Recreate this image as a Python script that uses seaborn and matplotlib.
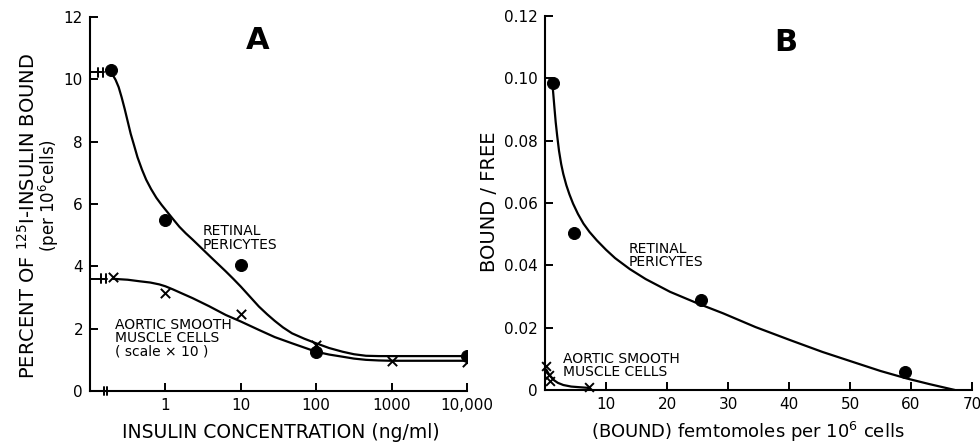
import matplotlib
matplotlib.use("Agg")
import matplotlib.pyplot as plt
import seaborn as sns

# ---- panel A : competition curves, x is log10 of insulin (ng/ml)
conc_ticks = [0, 1, 2, 3, 4]
conc_labels = ["1", "10", "100", "1000", "10,000"]
control_pos = -0.72          # spot on the axis used for "no insulin added"

peri_x = [control_pos, 0, 1, 2, 4]
peri_y = [10.3, 5.5, 4.05, 1.25, 1.12]
aortic_x = [-0.70, 0, 1, 2, 3, 4]
aortic_y = [3.65, 3.16, 2.48, 1.46, 0.96, 0.93]

peri_curve_x = [-0.74, -0.70, -0.66, -0.62, -0.58, -0.54, -0.50, -0.46, -0.42, -0.37,
                -0.31, -0.255, -0.19, -0.12, -0.05, 0.0, 0.1, 0.185, 0.27, 0.36, 0.48,
                0.6, 0.7, 0.8, 0.9, 1.0, 1.12, 1.24, 1.35, 1.45, 1.56, 1.68, 1.84, 2.0,
                2.17, 2.35, 2.5, 2.66, 2.83, 3.0, 4.0]
peri_curve_y = [10.25, 10.15, 9.98, 9.75, 9.42, 9.05, 8.65, 8.25, 7.92, 7.5,
                7.1, 6.78, 6.48, 6.2, 5.97, 5.82, 5.52, 5.27, 5.06, 4.86, 4.58,
                4.3, 4.07, 3.84, 3.6, 3.35, 3.03, 2.71, 2.46, 2.25, 2.04, 1.85, 1.68, 1.53,
                1.38, 1.26, 1.18, 1.13, 1.12, 1.12, 1.12]
aortic_curve_x = [-0.70, -0.5, -0.34, -0.2, -0.08, 0.0, 0.1, 0.22, 0.36, 0.58, 0.8,
                  1.0, 1.24, 1.45, 1.68, 2.0, 2.17, 2.35, 2.5, 2.66, 2.83, 3.0, 4.0]
aortic_curve_y = [3.6, 3.57, 3.52, 3.48, 3.42, 3.36, 3.26, 3.13, 2.98, 2.72, 2.44,
                  2.23, 1.96, 1.73, 1.53, 1.26, 1.17, 1.1, 1.04, 1.0, 0.98, 0.97, 0.97]

# ---- panel B : Scatchard plot
bound_ticks = [0, 10, 20, 30, 40, 50, 60, 70]
bound_labels = ["", "10", "20", "30", "40", "50", "60", "70"]
ratio_ticks = [0, 0.02, 0.04, 0.06, 0.08, 0.10, 0.12]
ratio_labels = ["0", "0.02", "0.04", "0.06", "0.08", "0.10", "0.12"]

peri_b_x = [1.26, 4.8, 25.6, 59.0]
peri_b_y = [0.0986, 0.0504, 0.0289, 0.0059]
peri_b_curve_x = [1.26, 1.4, 1.55, 1.75, 2.0, 2.3, 2.65, 3.0, 3.5, 4.0, 4.6, 5.4, 6.3,
                  7.3, 8.5, 10.0, 11.5, 13.9, 16.5, 20.5, 25.0, 29.2, 34.5, 40.2, 45.5,
                  51.1, 55.0, 59.3, 63.0, 67.2]
peri_b_curve_y = [0.0973, 0.094, 0.0905, 0.086, 0.0815, 0.0767, 0.0725, 0.0693, 0.0657,
                  0.0628, 0.0598, 0.0565, 0.0534, 0.0507, 0.048, 0.045, 0.0423, 0.0388,
                  0.0356, 0.0315, 0.0278, 0.0246, 0.0202, 0.016, 0.0122, 0.0086, 0.0061,
                  0.0037, 0.0019, 0.0]
aortic_b_x = [0.1, 0.6, 0.9, 7.2]
aortic_b_y = [0.0077, 0.0048, 0.0028, 0.0009]
aortic_b_curve_x = [0.2, 0.6, 1.0, 1.5, 2.1, 3.0, 4.3, 5.6, 7.0]
aortic_b_curve_y = [0.0066, 0.0052, 0.0042, 0.0031, 0.0023, 0.0016, 0.0011, 0.0009, 0.0007]

sns.set_style("ticks")
plt.rcParams["font.family"] = ["DejaVu Sans"]
plt.rcParams["mathtext.fontset"] = "dejavusans"
plt.rcParams["text.color"] = "black"
plt.rcParams["xtick.color"] = "black"
plt.rcParams["ytick.color"] = "black"

fig = plt.figure(figsize=(9.8, 4.44), dpi=100)
axA = fig.add_axes([90 / 980, 53 / 444, 377 / 980, 374 / 444])
axB = fig.add_axes([545 / 980, 54 / 444, 427 / 980, 374 / 444])

lw = 1.6
for ax in (axA, axB):
    sns.despine(ax=ax)
    ax.spines["left"].set_linewidth(1.5)
    ax.spines["bottom"].set_linewidth(1.5)
    ax.spines["left"].set_color("black")
    ax.spines["bottom"].set_color("black")
    ax.tick_params(direction="in", length=6, width=1.4, colors="black",
                   labelsize=11, pad=5)

# panel A
sns.lineplot(x=peri_curve_x, y=peri_curve_y, sort=False, color="black", lw=lw, ax=axA)
sns.lineplot(x=aortic_curve_x, y=aortic_curve_y, sort=False, color="black", lw=lw, ax=axA)
sns.scatterplot(x=peri_x, y=peri_y, marker="o", s=75, color="black", edgecolor="black",
                ax=axA, zorder=5)
sns.scatterplot(x=aortic_x, y=aortic_y, marker="x", s=45, color="black", linewidth=1.4,
                ax=axA, zorder=5)
axA.set_xlim(-1.0, 4.0)
axA.set_ylim(0, 12)
axA.set_xticks(conc_ticks)
axA.set_xticklabels(conc_labels)
axA.set_yticks(range(0, 13, 2))
axA.set_xlabel("")
axA.set_ylabel("")

# break marks: x axis and the two control levels on the y axis
for bx in (-0.82, -0.77):
    axA.plot([bx, bx], [-0.14, 0.14], color="black", lw=1.4, clip_on=False)
for lvl, bars in ((10.22, (-0.89, -0.83)), (3.6, (-0.85, -0.79))):
    axA.plot([-1.0, bars[1] + 0.02], [lvl, lvl], color="black", lw=1.4, clip_on=False)
    for bx in bars:
        axA.plot([bx, bx], [lvl - 0.15, lvl + 0.15], color="black", lw=1.4, clip_on=False)

axA.text(1.22, 11.25, "A", fontsize=22, fontweight="bold", ha="center", va="center")
axA.text(0.5, 5.35, "RETINAL\nPERICYTES", fontsize=10, ha="left", va="top", linespacing=0.95)
axA.text(-0.67, 2.35, "AORTIC SMOOTH\nMUSCLE CELLS\n( scale \u00d7 10 )", fontsize=10,
         ha="left", va="top", linespacing=0.95)

fig.text(28 / 980, 1 - 216 / 444, "PERCENT OF $^{125}$I-INSULIN BOUND", rotation=90,
         fontsize=14, ha="center", va="center")
fig.text(49 / 980, 1 - 196 / 444, "(per 10$^6$cells)", rotation=90,
         fontsize=12, ha="center", va="center")
fig.text(281 / 980, 1 - 432 / 444, "INSULIN CONCENTRATION (ng/ml)", fontsize=13.5,
         ha="center", va="center")

# panel B
sns.lineplot(x=peri_b_curve_x, y=peri_b_curve_y, sort=False, color="black", lw=lw, ax=axB)
sns.lineplot(x=aortic_b_curve_x, y=aortic_b_curve_y, sort=False, color="black", lw=lw, ax=axB)
sns.scatterplot(x=peri_b_x, y=peri_b_y, marker="o", s=75, color="black", edgecolor="black",
                ax=axB, zorder=5)
sns.scatterplot(x=aortic_b_x, y=aortic_b_y, marker="x", s=40, color="black", linewidth=1.4,
                ax=axB, zorder=5, clip_on=False)
axB.set_xlim(0, 70)
axB.set_ylim(0, 0.12)
axB.set_xticks(bound_ticks)
axB.set_xticklabels(bound_labels)
axB.set_yticks(ratio_ticks)
axB.set_yticklabels(ratio_labels)
axB.set_xlabel("")
axB.set_ylabel("")

axB.text(39.5, 0.1115, "B", fontsize=22, fontweight="bold", ha="center", va="center")
axB.text(13.7, 0.0475, "RETINAL\nPERICYTES", fontsize=10, ha="left", va="top", linespacing=0.95)
axB.text(2.9, 0.0122, "AORTIC SMOOTH\nMUSCLE CELLS", fontsize=10, ha="left", va="top",
         linespacing=0.95)

fig.text(489 / 980, 1 - 202 / 444, "BOUND / FREE", rotation=90, fontsize=14,
         ha="center", va="center")
fig.text(748 / 980, 1 - 432 / 444, "(BOUND) femtomoles per 10$^6$ cells", fontsize=13,
         ha="center", va="center")

fig.savefig("out.png", dpi=100)
